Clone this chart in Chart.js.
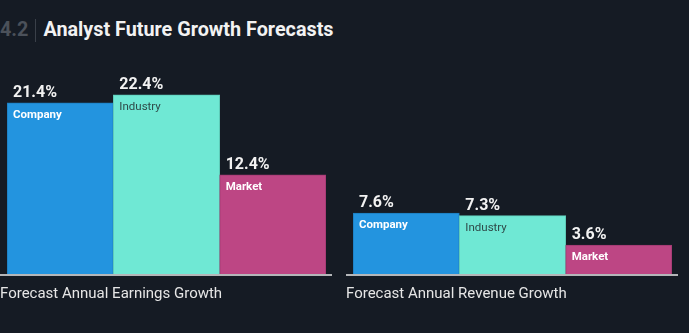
<!DOCTYPE html>
<html lang="en">
<head>
    <meta charset="UTF-8">
    <title>Analyst Future Growth Forecasts</title>
    <script src="https://cdn.jsdelivr.net/npm/chart.js"></script>
    <style>
        body {
            margin: 0;
            width: 689px;
            height: 333px;
            background: #151b24;
            font-family: Roboto, sans-serif;
            overflow: hidden;
            position: relative;
        }
        .head {
            position: absolute;
            left: 0;
            top: 17px;
            font-size: 19.8px;
            font-weight: bold;
            line-height: 26px;
            white-space: nowrap;
        }
        .head .num { color: #4b515a; }
        .head .sep {
            display: inline-block;
            width: 1px;
            height: 23px;
            background: #3a4049;
            vertical-align: middle;
            margin: 0 7px 0 7px;
        }
        .head .txt { color: #f2f2f2; }
        .box {
            position: absolute;
            top: 0;
            height: 333px;
        }
    </style>
</head>
<body>
    <div class="head"><span class="num">4.2</span><span class="sep"></span><span class="txt">Analyst Future Growth Forecasts</span></div>
    <div class="box" style="left:0;width:340px"><canvas id="earnChart"></canvas></div>
    <div class="box" style="left:340px;width:349px"><canvas id="revChart"></canvas></div>
    <script>
    // data
    const categories = ['Company', 'Industry', 'Market'];
    const earningsGrowth = [21.4, 22.4, 12.4];
    const revenueGrowth = [7.6, 7.3, 3.6];
    const groupNames = ['Forecast Annual Earnings Growth', 'Forecast Annual Revenue Growth'];

    const barColors = ['#2394df', '#6fe8d4', '#bd4684'];
    const edgeColors = ['#1d7cbd', '#5fcbb9', '#9f3a70'];
    const nameColors = ['#ffffff', '#2f4a48', '#ffffff'];
    const nameWeights = ['bold', 'normal', 'bold'];

    const labelPlugin = {
      id: 'labels',
      afterDatasetsDraw(chart) {
        const ctx = chart.ctx;
        const area = chart.chartArea;
        const y0 = chart.scales.y.getPixelForValue(0);
        const meta = chart.getDatasetMeta(0);
        const vals = chart.data.datasets[0].data;
        ctx.save();
        // baseline
        ctx.fillStyle = '#b4b6b9';
        ctx.fillRect(area.left - 7, y0, area.right - area.left + 13, 2);
        meta.data.forEach((bar, i) => {
          const left = bar.x - bar.width / 2;
          ctx.textBaseline = 'alphabetic';
          ctx.textAlign = 'left';
          ctx.fillStyle = '#f2f2f2';
          ctx.font = 'bold 16px Roboto';
          ctx.fillText(vals[i].toFixed(1) + '%', left + 6, bar.y - 6);
          ctx.fillStyle = nameColors[i];
          ctx.font = nameWeights[i] + ' 11.5px Roboto';
          ctx.fillText(categories[i], left + 6, bar.y + 15);
        });
        ctx.fillStyle = '#e6e6e6';
        ctx.font = '15px Roboto';
        ctx.fillText(chart.options.plugins.labels.group, area.left - 7, y0 + 24);
        ctx.restore();
      }
    };

    function makeChart(id, values, group, padLeft, padRight) {
      return new Chart(document.getElementById(id), {
        type: 'bar',
        data: {
          labels: categories,
          datasets: [{
            data: values,
            backgroundColor: barColors,
            borderColor: edgeColors,
            borderWidth: 1,
            categoryPercentage: 1,
            barPercentage: 1
          }]
        },
        options: {
          responsive: false,
          animation: false,
          layout: { padding: { left: padLeft, right: padRight, top: 74, bottom: 59 } },
          plugins: {
            legend: { display: false },
            tooltip: { enabled: false },
            labels: { group: group }
          },
          scales: {
            x: { display: false },
            y: { display: false, min: 0, max: 25 }
          }
        },
        plugins: [labelPlugin]
      });
    }

    const c1 = document.getElementById('earnChart');
    c1.width = 340; c1.height = 333;
    const c2 = document.getElementById('revChart');
    c2.width = 349; c2.height = 333;
    makeChart('earnChart', earningsGrowth, groupNames[0], 7, 14);
    makeChart('revChart', revenueGrowth, groupNames[1], 13, 17);
    </script>
</body>
</html>
